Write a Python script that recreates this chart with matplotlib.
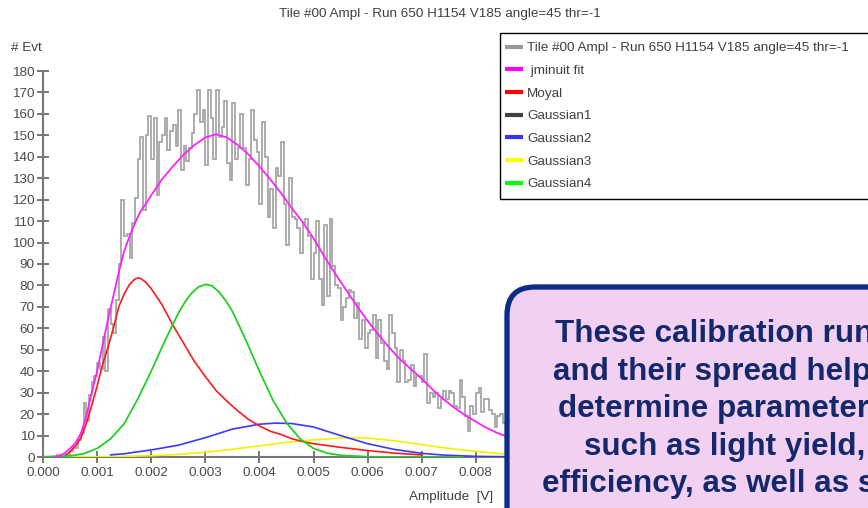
import matplotlib.pyplot as plt
import numpy as np
from matplotlib.lines import Line2D
from matplotlib.patches import FancyBboxPatch, Rectangle
from matplotlib.ticker import MultipleLocator, FormatStrFormatter
from matplotlib.transforms import IdentityTransform

plt.rcParams['font.family'] = ['Liberation Sans', 'DejaVu Sans']

title = "Tile #00 Ampl - Run 650 H1154 V185 angle=45 thr=-1"

# amplitude histogram, 50 uV bins starting at 0
bin_width = 0.00005
counts = [0, 0, 0, 0, 0, 1, 1, 0, 1, 1,
          3, 5, 4, 8, 11, 25, 17, 29, 35, 38,
          44, 41, 56, 40, 69, 62, 58, 73, 90, 120,
          103, 104, 93, 109, 121, 139, 149, 115, 150, 159,
          139, 158, 122, 147, 150, 158, 143, 152, 155, 145,
          162, 134, 145, 138, 144, 151, 160, 171, 156, 162,
          136, 171, 158, 139, 171, 149, 154, 166, 137, 129,
          165, 139, 144, 160, 144, 127, 139, 162, 148, 142,
          118, 156, 140, 112, 125, 107, 135, 131, 147, 118,
          99, 130, 112, 111, 107, 95, 109, 111, 103, 83,
          95, 110, 83, 71, 108, 75, 111, 89, 80, 79,
          64, 70, 74, 78, 77, 65, 72, 55, 64, 51,
          58, 59, 66, 46, 64, 53, 45, 41, 66, 58,
          51, 35, 50, 45, 35, 36, 43, 33, 38, 38,
          35, 48, 25, 30, 28, 30, 23, 27, 31, 27,
          31, 30, 24, 23, 36, 28, 19, 12, 24, 20,
          30, 32, 21, 27, 27, 22, 20, 14, 19, 20,
          16, 16]
edges = np.arange(len(counts) + 1) * bin_width

# fitted curves, sampled (x in V)
fit_x = [0.0002, 0.0003, 0.0004, 0.0005, 0.0006, 0.0007, 0.0008, 0.0009, 0.0010, 0.0011,
         0.0012, 0.0013, 0.0014, 0.0015, 0.0016, 0.0017, 0.0018, 0.0019, 0.0020, 0.0022,
         0.0024, 0.0026, 0.0028, 0.0030, 0.0032, 0.0034, 0.0036, 0.0038, 0.0040, 0.0042,
         0.0044, 0.0046, 0.0048, 0.0050, 0.0052, 0.0054, 0.0056, 0.0058, 0.0060, 0.0062,
         0.0064, 0.0066, 0.0068, 0.0070, 0.0072, 0.0074, 0.0076, 0.0078, 0.0080, 0.0082,
         0.0084, 0.0086, 0.0090]
fit_y = [0.1, 0.5, 1.8, 4, 6.5, 11, 19, 30, 40, 52,
         64, 75, 86, 96, 103, 109, 114.5, 118, 122, 129.5,
         135.5, 141, 145.5, 149, 150.5, 149, 145.5, 141, 135.5, 129.5,
         123, 116, 109.5, 102, 93.5, 85.5, 78, 70.5, 63.5, 57,
         51, 45.5, 41, 36.5, 31.5, 27, 23, 19.5, 16.5, 13.5,
         11.2, 9.3, 6.5]

moyal_x = [0.0004, 0.0005, 0.0006, 0.0007, 0.0008, 0.0009, 0.0010, 0.0011, 0.0012, 0.0013,
           0.0014, 0.0015, 0.0016, 0.0017, 0.00175, 0.0018, 0.0019, 0.0020, 0.0022, 0.0024,
           0.0026, 0.0028, 0.0030, 0.0032, 0.0034, 0.0036, 0.0038, 0.0040, 0.0042, 0.0044,
           0.0046, 0.0048, 0.0050, 0.0055, 0.0060, 0.0065, 0.0070]
moyal_y = [0.5, 2.5, 5, 9, 15.5, 24, 33, 43, 51, 60,
           70, 76, 80.5, 83, 83.5, 83.3, 81.5, 78.5, 71, 61.5,
           53, 44.5, 37.5, 31, 26, 21.5, 17.5, 14.5, 12, 10.5,
           8.5, 7.2, 6.2, 4.5, 3, 1.8, 1]

gauss2_x = [0.00125, 0.0015, 0.0020, 0.0025, 0.0030, 0.0035, 0.0040, 0.0043, 0.0046, 0.0050,
            0.0055, 0.0060, 0.0065, 0.0070, 0.0074, 0.0080, 0.0086]
gauss2_y = [1, 1.5, 3.3, 5.5, 9, 13, 15.3, 15.8, 15.6, 14,
            10, 6.2, 3.5, 1.7, 0.9, 0.3, 0.1]

gauss3_x = [0.0000, 0.0010, 0.0015, 0.0020, 0.0025, 0.0030, 0.0035, 0.0040, 0.0045, 0.0050,
            0.0055, 0.0058, 0.0060, 0.0065, 0.0070, 0.0075, 0.0080, 0.0085, 0.0090]
gauss3_y = [0, 0.1, 0.3, 0.6, 1.2, 2.2, 3.6, 5.2, 6.8, 8,
            8.8, 9, 8.8, 7.6, 5.8, 4, 2.6, 1.4, 0.7]

gauss4_x = [0.0000, 0.0005, 0.00075, 0.0010, 0.00125, 0.0015, 0.00175, 0.0020, 0.00225, 0.0025,
            0.002625, 0.00275, 0.002875, 0.0030, 0.003125, 0.00325, 0.003375, 0.0035, 0.00375,
            0.0040, 0.00425, 0.0045, 0.00475, 0.0050, 0.00525, 0.0055, 0.0060, 0.0070, 0.00775]
gauss4_y = [0.1, 0.5, 1.5, 4, 8.5, 15.5, 27, 40, 54, 67,
            72.3, 76.5, 79.3, 80.5, 79.8, 77, 73, 68, 54.5,
            40, 26.5, 16, 8.5, 4, 1.8, 0.8, 0.1, 0, 0]

legend_labels = [title, " jminuit fit", "Moyal", "Gaussian1", "Gaussian2", "Gaussian3", "Gaussian4"]
legend_colors = ["#999999", "#ff00ff", "#ff0000", "#404040", "#3333ff", "#ffff00", "#00ff00"]

note_lines = ["These calibration runs",
              "and their spread help",
              "determine parameters",
              "such as light yield,",
              "efficiency, as well as s"]
note_x = [555, 553, 558, 584, 542]
note_base = [342, 380, 417, 455, 492]

W, H = 868, 508
fig = plt.figure(figsize=(W / 100, H / 100), dpi=100)
# axes placed in pixels: x=0 at 43 px, y=0 at 457 px from top
x0, y0, xscale = 43, 457, 54.1 / 0.001
xmax = 0.0089
ax = fig.add_axes([x0 / W, (H - y0) / H, xmax * xscale / W, 386 / H])

ax.stairs(counts, edges, baseline=None, color="#a6a6a6", lw=1.3, zorder=2)
ax.plot(gauss3_x, gauss3_y, color="#f2f200", lw=1.2, zorder=3)
ax.plot(gauss2_x, gauss2_y, color="#3a3aff", lw=1.2, zorder=3)
ax.plot(moyal_x, moyal_y, color="#ff1a1a", lw=1.2, zorder=3)
ax.plot(gauss4_x, gauss4_y, color="#22d022", lw=1.3, zorder=3)
ax.plot(fit_x, fit_y, color="#ff20ff", lw=1.3, zorder=4)

ax.set_xlim(0, xmax)
ax.set_ylim(0, 180)
ax.xaxis.set_major_locator(MultipleLocator(0.001))
ax.xaxis.set_major_formatter(FormatStrFormatter("%.3f"))
ax.yaxis.set_major_locator(MultipleLocator(10))
for s in ["top", "right"]:
    ax.spines[s].set_visible(False)
for s in ["left", "bottom"]:
    ax.spines[s].set_color("#777777")
    ax.spines[s].set_linewidth(1.5)
ax.tick_params(direction="inout", length=9, width=1.4, color="#777777",
               labelsize=9.7, labelcolor="#4a4a4a")
ax.tick_params(axis="x", pad=3)
ax.tick_params(axis="y", pad=1.5)

# legend frame drawn separately (pixels), legend itself without frame
frame = Rectangle((500, H - 199), 420, 166, transform=IdentityTransform(), facecolor="white",
                  edgecolor="black", lw=1.0, clip_on=False, zorder=4.5)
ax.add_patch(frame)
handles = [Line2D([], [], color=c, lw=3, solid_capstyle="butt") for c in legend_colors]
leg = ax.legend(handles, legend_labels, loc="upper left",
                bbox_to_anchor=(505 / W, 1 - 42 / H), bbox_transform=fig.transFigure,
                borderaxespad=0, fontsize=9.7, labelspacing=0.76, handlelength=1.3,
                handletextpad=0.35, borderpad=0, frameon=False)
for t in leg.get_texts():
    t.set_color("#404040")

fig.text(440 / W, 1 - 14 / H, title, ha="center", va="center", fontsize=9.7, color="#404040")
fig.text(11 / W, 1 - 48 / H, "# Evt", ha="left", va="center", fontsize=9.7, color="#404040")
fig.text(493 / W, 1 - 497 / H, "Amplitude  [V]", ha="right", va="center", fontsize=9.7, color="#404040")

# rounded note box over the lower right corner
box = FancyBboxPatch((507, -60), 500, (H - 287) + 60, boxstyle="round,pad=0,rounding_size=28",
                     transform=IdentityTransform(), facecolor="#f2d0f2", edgecolor="#0b2c87",
                     lw=3.8, zorder=10)
fig.patches.append(box)
for line, lx, ly in zip(note_lines, note_x, note_base):
    fig.text(lx / W, (H - ly) / H, line, ha="left", va="baseline", fontsize=22.6,
             fontweight="bold", color="#13296b", zorder=11)

fig.savefig("out.png", dpi=100)
